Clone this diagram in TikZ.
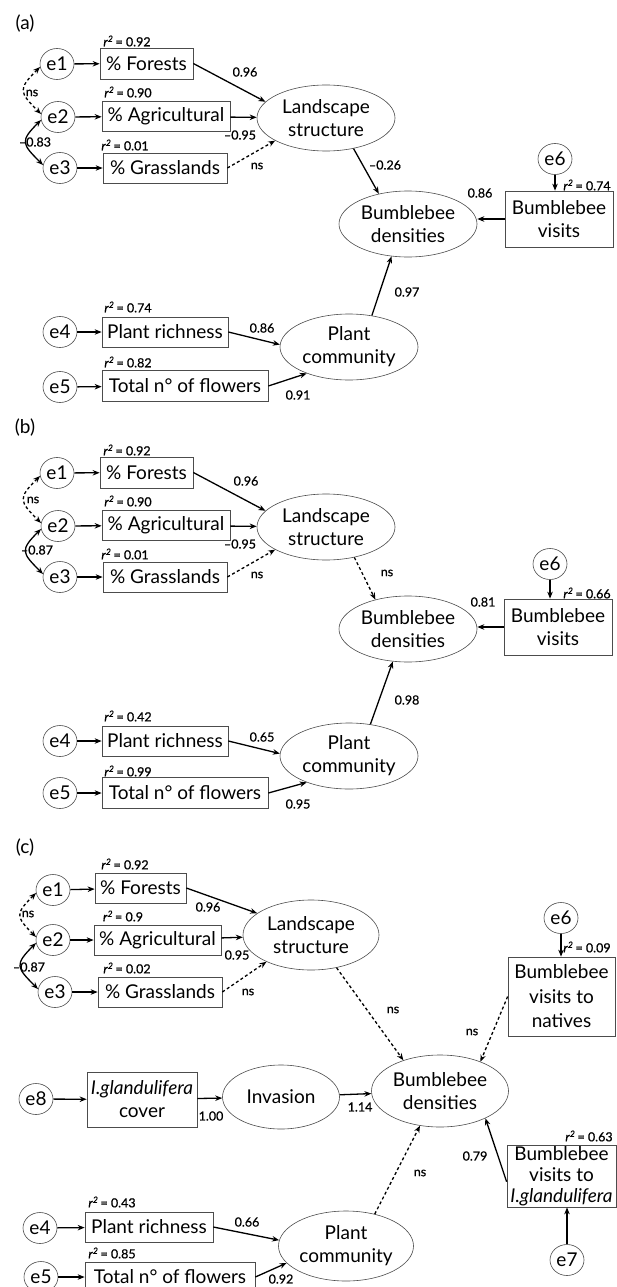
\documentclass[tikz,border=0pt]{standalone}
\usepackage{fontspec}
\setmainfont{Lato}
\newfontfamily\lblfont[FakeBold=0.8]{Lato}
\usetikzlibrary{shapes.geometric,arrows.meta}
\newcommand\rsq[1]{\textit{r}\textsuperscript{\textit{2}}\,= #1}
\tikzset{
 box/.style={draw=black!70, line width=0.7pt, rectangle, inner sep=0pt, align=center, font=\fontsize{19}{23}\selectfont},
 lat/.style={ellipse, draw=black!70, line width=0.6pt, minimum width=138, minimum height=66, inner sep=0pt, align=center, font=\fontsize{19}{23}\selectfont},
 err/.style={ellipse, draw=black!70, line width=0.6pt, minimum width=34, minimum height=31, inner sep=0pt, font=\fontsize{19}{20}\selectfont},
 lab/.style={inner sep=0pt, font=\lblfont\fontsize{12.5}{14}\selectfont},
 arr/.style={-{Stealth[length=7pt,width=5.5pt]}, line width=1.3pt},
 darr/.style={arr, dash pattern=on 3pt off 2.5pt},
 cov/.style={{Stealth[length=7pt,width=5.5pt]}-{Stealth[length=7pt,width=5.5pt]}, line width=1.3pt},
 dcov/.style={cov, dash pattern=on 3pt off 2.5pt},
 panel/.style={inner sep=0pt, font=\fontsize{19}{20}\selectfont},
}
\begin{document}
\begin{tikzpicture}[x=1pt,y=-1pt]
\useasboundingbox (0,0) rectangle (616,1287);
% ---------------- (a)
\node[panel] (pa) at (25,24) {(a)};
\node[err] (e1a) at (57,64) {e1};
\node[err] (e2a) at (58,117) {e2};
\node[err] (e3a) at (60,168) {e3};
\node[box, minimum width=93, minimum height=31] (foa) at (146.5,63.5) {\% Forests};
\node[box, minimum width=128, minimum height=30] (aga) at (166,116.5) {\% Agricultural};
\node[box, minimum width=124, minimum height=30] (gra) at (165,168) {\% Grasslands};
\node[lab] (r1a) at (127,41) {\rsq{0.92}};
\node[lab] (r2a) at (128,92) {\rsq{0.90}};
\node[lab] (r3a) at (125,145) {\rsq{0.01}};
\node[lat] (lsa) at (326,118) {Landscape\\structure};
\node[lat] (bda) at (408,224) {Bumblebee\\densities};
\node[err] (e6a) at (555,159) {e6};
\node[box, minimum width=108, minimum height=56] (bva) at (559,219) {Bumblebee\\visits};
\node[lat] (pca) at (349,347) {Plant\\community};
\node[err] (e4a) at (60,332) {e4};
\node[err] (e5a) at (60,387) {e5};
\node[box, minimum width=126, minimum height=30] (pra) at (165,332) {Plant richness};
\node[box, minimum width=166, minimum height=31] (tfa) at (185,386) {Total n° of flowers};
\node[lab] (r4a) at (128,307) {\rsq{0.74}};
\node[lab] (r5a) at (128,362) {\rsq{0.82}};
\node[lab] (r6a) at (587,185) {\rsq{0.74}};
\draw[arr] (e1a) -- (foa);
\draw[arr] (e2a) -- (aga);
\draw[arr] (e3a) -- (gra);
\draw[arr] (e4a) -- (pra);
\draw[arr] (e5a) -- (tfa);
\draw[dcov] (e1a.190) to[out=225,in=135,looseness=1.7] (e2a.170);
\draw[cov] (e2a.190) to[out=225,in=135,looseness=1.7] (e3a.170);
\draw[arr] (foa.east) -- (lsa.165);
\draw[arr] (aga) -- (lsa);
\draw[darr] (gra.east) -- (lsa.204);
\draw[arr] (lsa.-48) -- (bda.134);
\draw[arr] (bva.west) -- (bva.west -| bda.east);
\draw[arr] (e6a) -- (e6a |- bva.north);
\draw[arr] (pca.54) -- (bda.243);
\draw[arr] (pra.east) -- (pca.178);
\draw[arr] (tfa.east) -- (pca.212);
\node[lab] (l1a) at (32,93) {ns};
\node[lab] (l2a) at (35,142) {–0.83};
\node[lab] (l3a) at (245,72) {0.96};
\node[lab] (l4a) at (240,135) {–0.95};
\node[lab] (l5a) at (257,166) {ns};
\node[lab] (l6a) at (385,165) {–0.26};
\node[lab] (l7a) at (480,193) {0.86};
\node[lab] (l8a) at (407,292) {0.97};
\node[lab] (l9a) at (262,328) {0.86};
\node[lab] (l10a) at (298,395) {0.91};
% ---------------- (b)
\node[panel] (pb) at (25,428) {(b)};
\node[err] (e1b) at (57,473) {e1};
\node[err] (e2b) at (58,526) {e2};
\node[err] (e3b) at (60,577) {e3};
\node[box, minimum width=93, minimum height=31] (fob) at (146.5,472.5) {\% Forests};
\node[box, minimum width=128, minimum height=30] (agb) at (166,525.5) {\% Agricultural};
\node[box, minimum width=124, minimum height=30] (grb) at (165,577) {\% Grasslands};
\node[lab] (r1b) at (127,450) {\rsq{0.92}};
\node[lab] (r2b) at (128,501) {\rsq{0.90}};
\node[lab] (r3b) at (125,554) {\rsq{0.01}};
\node[lat] (lsb) at (326,527) {Landscape\\structure};
\node[lat] (bdb) at (408,629) {Bumblebee\\densities};
\node[err] (e6b) at (550,564) {e6};
\node[box, minimum width=108, minimum height=56] (bvb) at (558,627) {Bumblebee\\visits};
\node[lat] (pcb) at (349,756) {Plant\\community};
\node[err] (e4b) at (60,741) {e4};
\node[err] (e5b) at (60,793) {e5};
\node[box, minimum width=126, minimum height=30] (prb) at (165,741) {Plant richness};
\node[box, minimum width=166, minimum height=31] (tfb) at (185,793) {Total n° of flowers};
\node[lab] (r4b) at (128,716) {\rsq{0.42}};
\node[lab] (r5b) at (128,771) {\rsq{0.99}};
\node[lab] (r6b) at (587,593) {\rsq{0.66}};
\draw[arr] (e1b) -- (fob);
\draw[arr] (e2b) -- (agb);
\draw[arr] (e3b) -- (grb);
\draw[arr] (e4b) -- (prb);
\draw[arr] (e5b) -- (tfb);
\draw[dcov] (e1b.190) to[out=225,in=135,looseness=1.7] (e2b.170);
\draw[cov] (e2b.190) to[out=225,in=135,looseness=1.7] (e3b.170);
\draw[arr] (fob.east) -- (lsb.165);
\draw[arr] (agb) -- (lsb);
\draw[darr] (grb.east) -- (lsb.204);
\draw[darr] (lsb.-47) -- (bdb.138);
\draw[arr] (bvb.west) -- (bvb.west -| bdb.east);
\draw[arr] (e6b) -- (e6b |- bvb.north);
\draw[arr] (pcb.56) -- (bdb.245);
\draw[arr] (prb.east) -- (pcb.178);
\draw[arr] (tfb.east) -- (pcb.212);
\node[lab] (l1b) at (33,500) {ns};
\node[lab] (l2b) at (37,550) {–0.87};
\node[lab] (l3b) at (246,481) {0.96};
\node[lab] (l4b) at (240,544) {–0.95};
\node[lab] (l5b) at (257,575) {ns};
\node[lab] (l6b) at (387,573) {ns};
\node[lab] (l7b) at (483,602) {0.81};
\node[lab] (l8b) at (407,700) {0.98};
\node[lab] (l9b) at (262,737) {0.65};
\node[lab] (l10b) at (298,804) {0.95};
% ---------------- (c)
\node[panel] (pc) at (25,848) {(c)};
\node[err] (e1c) at (53,890) {e1};
\node[err] (e2c) at (53,940) {e2};
\node[err] (e3c) at (55,992) {e3};
\node[box, minimum width=91, minimum height=30] (foc) at (140.5,888) {\% Forests};
\node[box, minimum width=127, minimum height=30] (agc) at (157.5,940) {\% Agricultural};
\node[box, minimum width=124, minimum height=30] (grc) at (160,992) {\% Grasslands};
\node[lab] (r1c) at (125,864) {\rsq{0.92}};
\node[lab] (r2c) at (123,916) {\rsq{0.9}};
\node[lab] (r3c) at (127,968) {\rsq{0.02}};
\node[lat, minimum width=136, minimum height=70] (lsc) at (311,935) {Landscape\\structure};
\node[lat, minimum width=137, minimum height=72] (bdc) at (440,1091) {Bumblebee\\densities};
\node[err] (e6c) at (561,918) {e6};
\node[box, minimum width=107, minimum height=79, font=\fontsize{19}{24.5}\selectfont] (nat) at (561.5,996.5) {Bumblebee\\visits to\\natives};
\node[err] (e8c) at (36,1099) {e8};
\node[box, minimum width=110, minimum height=55] (glc) at (142,1099.5) {\textit{I.glandulifera}\\cover};
\node[lat, minimum width=117, minimum height=64] (inv) at (281,1097) {Invasion};
\node[box, minimum width=109, minimum height=62, font=\fontsize{19}{21}\selectfont] (bvg) at (561.5,1176) {Bumblebee\\visits to\\\textit{I.glandulifera}};
\node[err] (e7c) at (567,1260) {e7};
\node[lat, minimum width=135, minimum height=70] (pcc) at (346,1246) {Plant\\community};
\node[err] (e4c) at (40,1228) {e4};
\node[err] (e5c) at (41,1277) {e5};
\node[box, minimum width=128, minimum height=30] (prc) at (149,1227) {Plant richness};
\node[box, minimum width=170, minimum height=30] (tfc) at (170,1277) {Total n° of flowers};
\node[lab] (r4c) at (112,1202) {\rsq{0.43}};
\node[lab] (r5c) at (112,1253) {\rsq{0.85}};
\node[lab] (r6c) at (587,947) {\rsq{0.09}};
\node[lab] (r7c) at (589,1136) {\rsq{0.63}};
\draw[arr] (e1c) -- (foc);
\draw[arr] (e2c) -- (agc);
\draw[arr] (e3c) -- (grc);
\draw[arr] (e4c) -- (prc);
\draw[arr] (e5c) -- (tfc);
\draw[arr] (e8c) -- (glc);
\draw[dcov] (e1c.190) to[out=225,in=135,looseness=1.7] (e2c.170);
\draw[cov] (e2c.190) to[out=225,in=135,looseness=1.7] (e3c.170);
\draw[arr] (foc.east) -- (lsc.158);
\draw[arr] (agc) -- (lsc);
\draw[darr] (grc.east) -- (lsc.211);
\draw[darr] (lsc.-52) -- (bdc.140);
\draw[arr] (e6c) -- (e6c |- nat.north);
\draw[darr] (nat.west) -- (bdc.36);
\draw[arr] (glc) -- (inv);
\draw[arr] (inv) -- (bdc);
\draw[arr] (bvg.186) -- (bdc.-31);
\draw[arr] (e7c) -- (e7c |- bvg.south);
\draw[darr] (pcc.48) -- (bdc.240);
\draw[arr] (prc.east) -- (pcc.175);
\draw[arr] (tfc.east) -- (pcc.196);
\node[lab] (l1c) at (28,914) {ns};
\node[lab] (l2c) at (29,967) {–0.87};
\node[lab] (l3c) at (208,907) {0.96};
\node[lab] (l4c) at (237,955) {0.95};
\node[lab] (l5c) at (248,992) {ns};
\node[lab] (l6c) at (393,1010) {ns};
\node[lab] (l7c) at (472,1032) {ns};
\node[lab] (l8c) at (211,1116) {1.00};
\node[lab] (l9c) at (360,1107) {1.14};
\node[lab] (l10c) at (475,1156) {0.79};
\node[lab] (l11c) at (420,1173) {ns};
\node[lab] (l12c) at (247,1222) {0.66};
\node[lab] (l13c) at (281,1279) {0.92};
\end{tikzpicture}
\end{document}
